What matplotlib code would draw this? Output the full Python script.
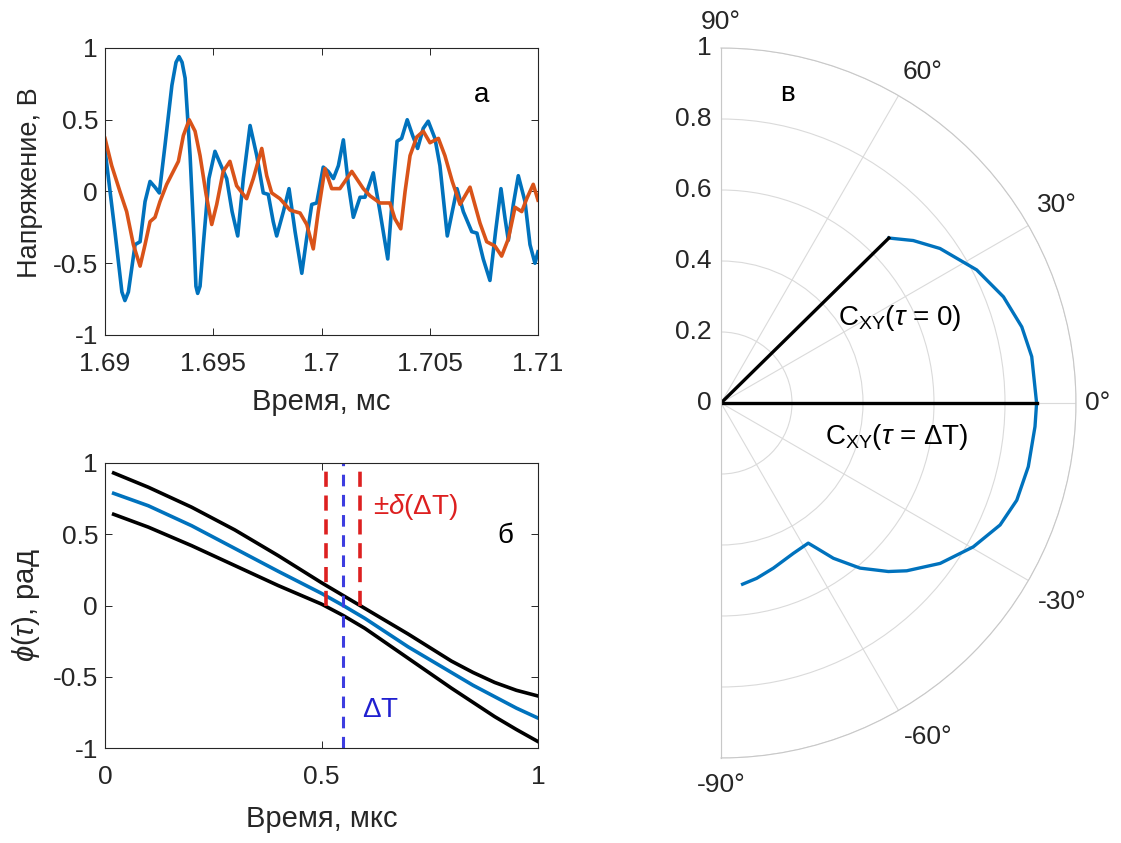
import numpy as np
import matplotlib
matplotlib.use('Agg')
import matplotlib.pyplot as plt

plt.rcParams['font.family'] = ['Liberation Sans', 'DejaVu Sans']
plt.rcParams['mathtext.fontset'] = 'custom'
plt.rcParams['mathtext.rm'] = 'Liberation Sans'
plt.rcParams['mathtext.it'] = 'Liberation Sans:italic'
plt.rcParams['mathtext.bf'] = 'Liberation Sans:bold'

DARK = '#262626'
BLUE = '#0072BD'
ORANGE = '#D95319'
TICK_FS = 19
LABEL_FS = 21
NOTE_FS = 20

# --- panel a: two voltage records, time in ms ---
t_blue = [1.69000, 1.69046, 1.69078, 1.69092, 1.69108, 1.69139, 1.69162, 1.69185,
          1.69208, 1.69231, 1.69251, 1.69277, 1.69309, 1.69328, 1.69342, 1.69356,
          1.69370, 1.69393, 1.69411, 1.69420, 1.69428, 1.69439, 1.69454, 1.69480,
          1.69508, 1.69536, 1.69562, 1.69587, 1.69613, 1.69639, 1.69670, 1.69701,
          1.69731, 1.69754, 1.69777, 1.69793, 1.69824, 1.69850, 1.69878, 1.69909,
          1.69931, 1.69955, 1.69978, 1.70008, 1.70031, 1.70055, 1.70078, 1.70101,
          1.70124, 1.70147, 1.70178, 1.70201, 1.70239, 1.70270, 1.70306, 1.70332,
          1.70349, 1.70370, 1.70396, 1.70421, 1.70444, 1.70470, 1.70493, 1.70524,
          1.70547, 1.70581, 1.70604, 1.70626, 1.70655, 1.70694, 1.70718, 1.70747,
          1.70778, 1.70804, 1.70829, 1.70848, 1.70863, 1.70886, 1.70909, 1.70940,
          1.70963, 1.70986, 1.71000]
v_blue = [0.29, -0.28, -0.70, -0.76, -0.70, -0.37, -0.35, -0.07,
          0.07, 0.03, -0.01, 0.32, 0.74, 0.90, 0.94, 0.90,
          0.79, 0.25, -0.32, -0.66, -0.71, -0.66, -0.37, 0.09,
          0.28, 0.18, 0.09, -0.14, -0.31, 0.09, 0.46, 0.25,
          -0.01, -0.02, -0.21, -0.31, -0.14, 0.02, -0.28, -0.57,
          -0.33, -0.09, -0.08, 0.17, 0.14, 0.09, 0.18, 0.36,
          0.05, -0.18, -0.04, -0.04, 0.13, -0.14, -0.47, 0.05,
          0.35, 0.37, 0.50, 0.39, 0.30, 0.44, 0.49, 0.37,
          0.18, -0.31, -0.14, 0.02, -0.14, -0.28, -0.29, -0.47,
          -0.62, -0.28, 0.02, -0.19, -0.34, -0.09, 0.11, -0.07,
          -0.37, -0.50, -0.42]

t_orange = [1.69000, 1.69031, 1.69069, 1.69100, 1.69131, 1.69162, 1.69185, 1.69208,
            1.69231, 1.69254, 1.69285, 1.69312, 1.69339, 1.69362, 1.69389, 1.69416,
            1.69439, 1.69467, 1.69493, 1.69516, 1.69546, 1.69577, 1.69608, 1.69654,
            1.69685, 1.69724, 1.69747, 1.69770, 1.69808, 1.69855, 1.69901, 1.69932,
            1.69962, 1.69985, 1.70016, 1.70047, 1.70085, 1.70140, 1.70193, 1.70224,
            1.70270, 1.70316, 1.70339, 1.70366, 1.70386, 1.70409, 1.70440, 1.70470,
            1.70501, 1.70540, 1.70570, 1.70604, 1.70640, 1.70686, 1.70732, 1.70763,
            1.70801, 1.70832, 1.70863, 1.70894, 1.70925, 1.70948, 1.70978, 1.71000]
v_orange = [0.37, 0.18, 0.00, -0.14, -0.37, -0.52, -0.37, -0.21,
            -0.18, -0.07, 0.05, 0.13, 0.21, 0.39, 0.50, 0.42,
            0.25, -0.02, -0.23, -0.09, 0.14, 0.21, 0.04, -0.05,
            0.09, 0.30, 0.11, -0.01, -0.05, -0.13, -0.15, -0.23,
            -0.40, -0.14, 0.16, 0.02, 0.02, 0.14, 0.02, -0.03,
            -0.08, -0.08, -0.19, -0.26, 0.00, 0.25, 0.38, 0.42,
            0.34, 0.37, 0.25, 0.07, -0.09, 0.03, -0.22, -0.35,
            -0.38, -0.45, -0.33, -0.11, -0.14, -0.05, 0.05, -0.06]

# --- panel б: phase and its confidence bounds, time in µs ---
tau = [0.02, 0.1, 0.2, 0.3, 0.4, 0.5, 0.55, 0.6, 0.7, 0.8, 0.85, 0.9, 0.95, 1.0]
phi_upper = [0.93, 0.83, 0.69, 0.53, 0.35, 0.16, 0.07, -0.02, -0.20, -0.39, -0.47,
             -0.54, -0.595, -0.635]
phi_mid = [0.787, 0.70, 0.56, 0.40, 0.24, 0.085, 0.0, -0.09, -0.29, -0.47, -0.56,
           -0.64, -0.72, -0.79]
phi_lower = [0.64, 0.55, 0.42, 0.28, 0.14, 0.01, -0.07, -0.16, -0.37, -0.58, -0.68,
             -0.78, -0.87, -0.955]
delta_t = 0.55
delta_err = 0.04

# --- panel в: coherence vector trace (angle in degrees, magnitude) ---
c_theta = [44.5, 40.2, 35.2, 27.5, 20.6, 14.2, 8.5, 0.0, -4.3, -11.7, -18.2, -23.6,
           -29.7, -36.2, -42.1, -45.2, -49.9, -54.1, -56.6, -58.1, -64.3, -72.4,
           -78.5, -83.2]
c_r = [0.663, 0.709, 0.755, 0.812, 0.850, 0.874, 0.885, 0.889, 0.887, 0.884, 0.877,
       0.858, 0.818, 0.765, 0.705, 0.669, 0.608, 0.540, 0.490, 0.465, 0.470, 0.488,
       0.504, 0.514]
vec_theta = [44.5, 0.0]
vec_r = [0.663, 0.889]

theta_ticks = [-90, -60, -30, 0, 30, 60, 90]
theta_labels = ['-90°', '-60°', '-30°', '0°', '30°', '60°', '90°']
r_ticks = [0, 0.2, 0.4, 0.6, 0.8, 1.0]
r_labels = ['0', '0.2', '0.4', '0.6', '0.8', '1']

W, H = 1121, 843
fig = plt.figure(figsize=(W / 100, H / 100), dpi=100)


def style_box(ax):
    for s in ax.spines.values():
        s.set_color(DARK)
        s.set_linewidth(0.8)
    ax.tick_params(direction='in', length=5, width=0.7, colors=DARK,
                   labelsize=TICK_FS, top=True, right=True)
    ax.tick_params(axis='x', pad=12)
    ax.tick_params(axis='y', pad=5)


# panel a
ax1 = fig.add_axes([105 / W, 1 - 335 / H, 433 / W, 287 / H])
ax1.plot(t_blue, v_blue, color=BLUE, lw=2.6, solid_joinstyle='round')
ax1.plot(t_orange, v_orange, color=ORANGE, lw=2.6, solid_joinstyle='round')
ax1.set_xlim(1.69, 1.71)
ax1.set_ylim(-1, 1)
ax1.set_xticks([1.69, 1.695, 1.7, 1.705, 1.71])
ax1.set_xticklabels(['1.69', '1.695', '1.7', '1.705', '1.71'])
ax1.set_yticks([-1, -0.5, 0, 0.5, 1])
ax1.set_yticklabels(['-1', '-0.5', '0', '0.5', '1'])
style_box(ax1)
ax1.set_xlabel('Время, мс', fontsize=LABEL_FS, color=DARK, labelpad=9)
ax1.set_ylabel('Напряжение, В', fontsize=19.5, color=DARK)
ax1.yaxis.set_label_coords(-0.143, 0.53)
ax1.text(1.7074, 0.67, 'а', fontsize=NOTE_FS, ha='center', va='center')

# panel б
ax2 = fig.add_axes([105 / W, 1 - 748 / H, 433 / W, 285 / H])
ax2.plot(tau, phi_upper, color='black', lw=2.6)
ax2.plot(tau, phi_lower, color='black', lw=2.6)
ax2.plot(tau, phi_mid, color=BLUE, lw=2.6)
ax2.plot([delta_t - delta_err] * 2, [0, 1], color='#DD2020', lw=2.6, ls=(0, (4.2, 2.4)))
ax2.plot([delta_t + delta_err] * 2, [0, 1], color='#DD2020', lw=2.6, ls=(0, (4.2, 2.4)))
ax2.plot([delta_t] * 2, [-1, 1], color='#3D3DE0', lw=2.2, ls=(0, (3.8, 2.8)))
ax2.set_xlim(0, 1)
ax2.set_ylim(-1, 1)
ax2.set_xticks([0, 0.5, 1])
ax2.set_xticklabels(['0', '0.5', '1'])
ax2.set_yticks([-1, -0.5, 0, 0.5, 1])
ax2.set_yticklabels(['-1', '-0.5', '0', '0.5', '1'])
style_box(ax2)
ax2.set_xlabel('Время, мкс', fontsize=LABEL_FS, color=DARK, labelpad=12)
ax2.set_ylabel(r'$\phi(\tau)$, рад', fontsize=LABEL_FS, color=DARK)
ax2.yaxis.set_label_coords(-0.1455, 0.5)
ax2.text(0.62, 0.69, r'$\pm\delta$($\Delta$T)', color='#DD2020', fontsize=NOTE_FS,
         ha='left', va='center')
ax2.text(0.924, 0.49, 'б', fontsize=NOTE_FS, ha='center', va='center')
ax2.text(0.593, -0.73, r'$\Delta$T', color='#2020D0', fontsize=NOTE_FS,
         ha='left', va='center')

# panel в: half polar plot; axes box is square around the wedge
R = 355
cx, cy = 721, 403
ax3 = fig.add_axes([(cx - R / 2) / W, (H - cy - R) / H, 2 * R / W, 2 * R / H],
                   projection='polar')
ax3.set_thetamin(-90)
ax3.set_thetamax(90)
ax3.set_rlim(0, 1)
ax3.set_rgrids(r_ticks[1:], labels=[''] * (len(r_ticks) - 1))
ax3.set_thetagrids(theta_ticks, labels=[''] * len(theta_ticks))
ax3.grid(color='#dadada', lw=0.8)
for name in ('polar', 'start', 'end'):
    ax3.spines[name].set_color('#c8c8c8')
    ax3.spines[name].set_linewidth(0.8)

# angle labels sit just outside the outer arc
label_pos = {90: (90, 1.072), 60: (58.6, 1.092), 30: (30.5, 1.099), 0: (0, 1.062),
             -30: (-30.3, 1.113), -60: (-58.2, 1.107), -90: (-90, 1.076)}
for th, lab in zip(theta_ticks, theta_labels):
    ang, rr = label_pos[th]
    ax3.text(np.deg2rad(ang), rr, lab, fontsize=TICK_FS, color=DARK,
             ha='center', va='center', clip_on=False)

for rv, lab in zip(r_ticks, r_labels):
    ax3.annotate(lab, xy=(np.pi / 2, rv), xytext=(-7, 0), textcoords='offset points',
                 ha='right', va='center', fontsize=TICK_FS, color=DARK,
                 annotation_clip=False)

ax3.plot(np.deg2rad(c_theta), c_r, color=BLUE, lw=2.4, solid_joinstyle='round')
for th, rv in zip(vec_theta, vec_r):
    ax3.plot([0, np.deg2rad(th)], [0, rv], color='black', lw=2.4)

ax3.text(np.deg2rad(77.9), 0.89, 'в', fontsize=NOTE_FS, ha='center', va='center')
ax3.text(np.deg2rad(25.4), 0.558, r'C$_{\rm XY}$($\tau$ = 0)', fontsize=NOTE_FS,
         ha='center', va='center')
ax3.text(np.deg2rad(-10.9), 0.504, r'C$_{\rm XY}$($\tau$ = $\Delta$T)', fontsize=NOTE_FS,
         ha='center', va='center')

fig.savefig('out.png', dpi=100)
